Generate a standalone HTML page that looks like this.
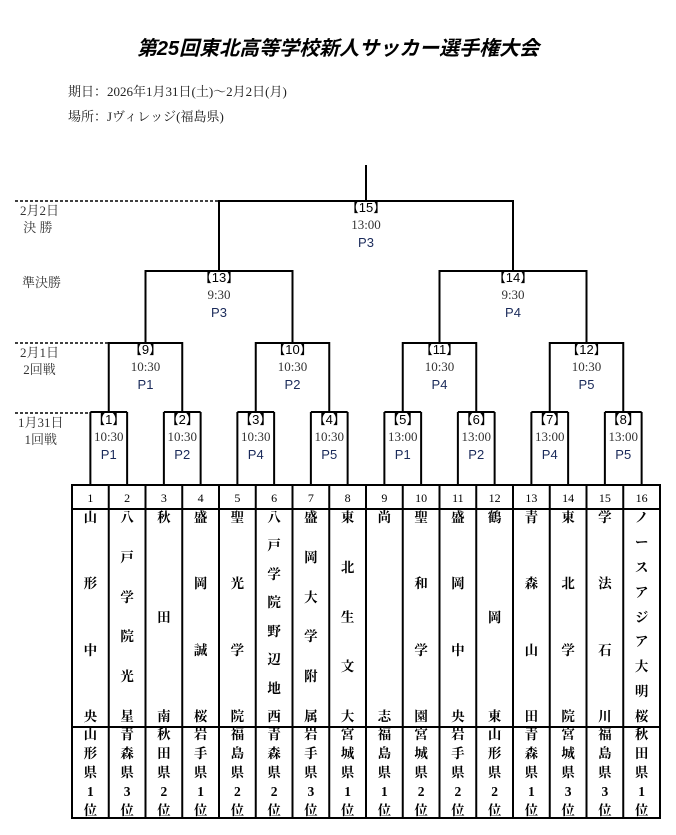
<!DOCTYPE html>
<html><head><meta charset="utf-8"><style>
body{margin:0;background:#fff;width:676px;height:835px;position:relative;overflow:hidden;font-family:"Liberation Serif","Noto Serif CJK SC",serif}
.t{position:absolute;white-space:nowrap}
.cell{position:absolute;box-sizing:border-box;display:flex;flex-direction:column;align-items:center;font-family:"Liberation Serif","Noto Serif CJK JP",serif;font-weight:bold;font-size:13.5px;color:#000}
</style></head><body>
<div class="t" style="left:0;width:676px;text-align:center;top:32px;font-size:20px;font-weight:bold;font-style:italic;font-family:'Liberation Sans','Noto Sans CJK JP',sans-serif">第25回東北高等学校新人サッカー選手権大会</div>
<div class="t" style="left:68px;top:81px;font-size:13px;color:#222">期日：2026年1月31日(土)～2月2日(月)</div>
<div class="t" style="left:68px;top:106px;font-size:13px;color:#222">場所：Jヴィレッジ(福島県)</div>
<div class="t" style="left:20px;top:202px;font-size:13px;color:#333;line-height:17px">2月2日<br>&nbsp;決&nbsp;勝</div>
<div class="t" style="left:22px;top:272px;font-size:13px;color:#333">準決勝</div>
<div class="t" style="left:20px;top:344px;font-size:13px;color:#333;line-height:17px">2月1日<br>&nbsp;2回戦</div>
<div class="t" style="left:18px;top:414px;font-size:13px;color:#333;line-height:17px">1月31日<br>&nbsp;&nbsp;1回戦</div>
<svg id="s" width="676" height="835" style="position:absolute;left:0;top:0" xmlns="http://www.w3.org/2000/svg"></svg>
<div id="tb"></div>
<script>
const s=document.getElementById('s');const ns='http://www.w3.org/2000/svg';
function L(x1,y1,x2,y2,d){const l=document.createElementNS(ns,'line');l.setAttribute('x1',x1);l.setAttribute('y1',y1);l.setAttribute('x2',x2);l.setAttribute('y2',y2);l.setAttribute('stroke','#000');l.setAttribute('stroke-width',d?1.5:2);if(d)l.setAttribute('stroke-dasharray','3,2');s.appendChild(l);}
function T(x,y,txt,c,f){const t=document.createElementNS(ns,'text');t.setAttribute('x',x);t.setAttribute('y',y);t.setAttribute('text-anchor','middle');t.setAttribute('font-size','13');t.setAttribute('fill',c);t.setAttribute('font-family',f);t.textContent=txt;s.appendChild(t);}
const c=i=>53.625+36.75*i;
const info={1:['10:30','P1'],2:['10:30','P2'],3:['10:30','P4'],4:['10:30','P5'],5:['13:00','P1'],6:['13:00','P2'],7:['13:00','P4'],8:['13:00','P5'],9:['10:30','P1'],10:['10:30','P2'],11:['10:30','P4'],12:['10:30','P5'],13:['9:30','P3'],14:['9:30','P4'],15:['13:00','P3']};
function lab(n,x,y){T(x,y+11,'【'+n+'】','#000','Liberation Sans,Noto Sans CJK JP,sans-serif');T(x,y+28,info[n][0],'#333','Liberation Serif,serif');T(x,y+46,info[n][1],'#1a2a5a','Liberation Sans,sans-serif');}
let m1=[],m2=[],m3=[];
for(let m=1;m<=8;m++){const a=c(2*m-1),b=c(2*m);L(a,412,b,412);L(a,412,a,486);L(b,412,b,486);m1.push((a+b)/2);lab(m,(a+b)/2,413);}
for(let k=0;k<4;k++){const a=m1[2*k],b=m1[2*k+1];L(a,343,b,343);L(a,342,a,413);L(b,342,b,413);m2.push((a+b)/2);lab(9+k,(a+b)/2,343);}
for(let k=0;k<2;k++){const a=m2[2*k],b=m2[2*k+1];L(a,271,b,271);L(a,270,a,343);L(b,270,b,343);m3.push((a+b)/2);lab(13+k,(a+b)/2,271);}
L(m3[0],201,m3[1],201);L(m3[0],200,m3[0],271);L(m3[1],200,m3[1],271);L((m3[0]+m3[1])/2,165,(m3[0]+m3[1])/2,201);lab(15,(m3[0]+m3[1])/2,201);
L(15,201,m3[0],201,1);L(15,343,m2[0],343,1);L(15,413,m1[0]-18,413,1);
L(72,485,661,485);L(72,509,661,509);L(72,727,661,727);L(72,818,661,818);
for(let i=0;i<=16;i++){const x=72+36.75*i;L(x,484,x,819);}
const names=['山形中央','八戸学院光星','秋田南','盛岡誠桜','聖光学院','八戸学院野辺地西','盛岡大学附属','東北生文大','尚志','聖和学園','盛岡中央','鶴岡東','青森山田','東北学院','学法石川','ノースアジア大明桜'];
const pref=['山形県1位','青森県3位','秋田県2位','岩手県1位','福島県2位','青森県2位','岩手県3位','宮城県1位','福島県1位','宮城県2位','岩手県2位','山形県2位','青森県1位','宮城県3位','福島県3位','秋田県1位'];
let h='';
for(let i=0;i<16;i++){const x=72+36.75*i;
h+=`<div class="cell" style="left:${x}px;top:487px;width:36.75px;height:22px;font-weight:normal;font-size:12px;justify-content:center">${i+1}</div>`;
h+=`<div class="cell" style="left:${x}px;top:510px;width:36.75px;height:214px;justify-content:space-between;line-height:15px">${[...names[i]].map(ch=>'<span>'+ch+'</span>').join('')}</div>`;
h+=`<div class="cell" style="left:${x}px;top:725px;width:36.75px;height:92px;line-height:19px">${[...pref[i]].map(ch=>'<span>'+ch+'</span>').join('')}</div>`;}
document.getElementById('tb').innerHTML=h;
</script>
</body></html>
